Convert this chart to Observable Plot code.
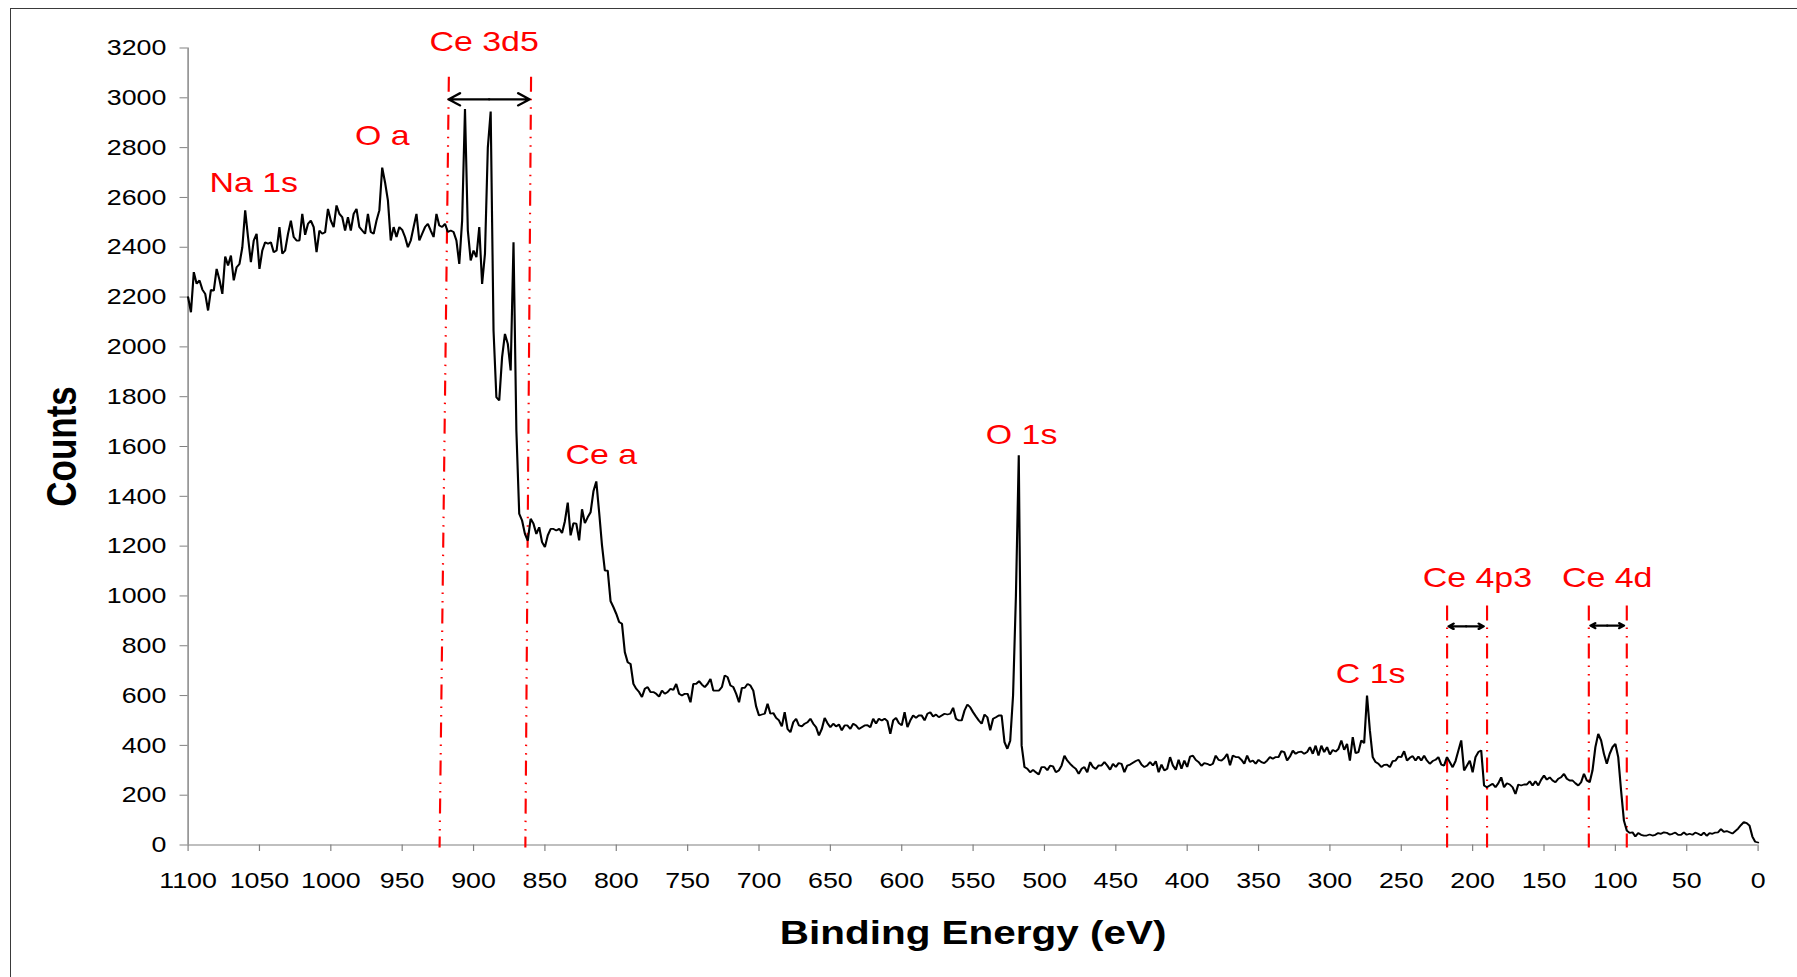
<!DOCTYPE html>
<html>
<head>
<meta charset="utf-8">
<script src="https://cdn.jsdelivr.net/npm/d3@7"></script>
<script src="https://cdn.jsdelivr.net/npm/@observablehq/plot@0.6"></script>
<style>
  html, body { margin: 0; padding: 0; background: #ffffff; }
  #wrap { position: relative; width: 1797px; height: 977px; overflow: hidden; background: #fff; }
  #border { position: absolute; left: 10px; top: 8px; width: 1900px; height: 1100px;
            border-left: 1.5px solid #3a3a3a; border-top: 1.5px solid #3a3a3a; pointer-events: none; }
</style>
</head>
<body>
<div id="wrap"><div id="chart"></div><div id="border"></div></div>
<script>
// ---- Data: XPS survey spectrum, counts sampled every 2 eV from 1100 eV down to 0 eV ----
const energies = d3.range(1100, -1, -2);
const counts = [
  2200,2139,2300,2253,2267,2230,2213,2146,2229,2226,
  2313,2269,2213,2363,2327,2367,2267,2320,2333,2400,
  2548,2440,2340,2427,2454,2313,2387,2420,2414,2420,
  2380,2387,2481,2374,2387,2454,2507,2441,2427,2427,
  2534,2450,2494,2507,2481,2380,2467,2454,2460,2554,
  2507,2481,2568,2534,2521,2467,2521,2467,2534,2554,
  2481,2467,2454,2534,2461,2454,2507,2548,2720,2660,
  2588,2427,2481,2441,2481,2470,2441,2400,2427,2481,
  2534,2427,2454,2481,2494,2467,2441,2534,2487,2481,
  2494,2461,2467,2461,2427,2333,2507,2955,2467,2347,
  2387,2360,2481,2253,2374,2800,2945,2066,1798,1785,
  1959,2052,2012,1905,2420,1664,1330,1303,1249,1222,
  1310,1290,1249,1276,1216,1196,1243,1269,1269,1263,
  1270,1252,1300,1375,1243,1292,1290,1223,1348,1292,
  1316,1336,1420,1460,1336,1203,1102,1102,979,955,
  928,895,888,774,734,727,647,627,614,594,
  627,634,614,614,607,596,620,607,614,627,
  623,647,607,600,607,607,573,647,647,658,
  644,634,647,667,620,620,620,634,681,674,
  640,634,607,573,631,631,647,640,620,556,
  520,524,527,567,527,530,510,500,476,533,
  466,453,493,507,480,476,487,493,507,487,
  473,440,466,510,489,473,487,476,484,460,
  480,480,466,487,480,466,473,480,481,473,
  507,487,507,500,507,497,446,500,510,489,
  480,533,473,500,520,510,520,520,500,527,
  533,516,524,513,520,527,524,527,551,507,
  500,500,540,564,553,533,516,500,487,524,
  513,460,507,513,520,520,413,386,419,600,
  1000,1565,400,313,306,292,302,292,283,313,
  313,300,319,316,292,299,319,359,339,326,
  315,306,286,306,313,292,333,313,305,320,
  319,333,319,302,326,313,329,326,292,319,
  323,330,337,342,323,313,319,333,319,337,
  292,323,299,306,353,319,302,342,306,339,
  313,355,359,342,333,318,329,326,320,326,
  359,342,339,349,366,320,359,353,353,342,
  326,359,333,339,326,342,333,329,339,353,
  346,353,353,377,373,339,355,379,366,373,
  375,366,373,393,366,399,359,399,373,393,
  363,382,375,386,420,382,406,339,433,369,
  373,420,409,600,460,353,333,326,313,322,
  323,313,337,339,355,353,377,339,350,357,
  339,355,339,359,339,326,337,342,353,323,
  319,353,333,312,337,379,420,299,319,339,
  292,353,373,380,239,232,239,246,232,248,
  272,232,248,243,232,205,243,239,243,243,
  256,239,256,239,262,279,262,272,259,252,
  266,272,286,266,259,259,248,239,252,286,
  259,252,300,393,446,420,366,326,366,393,
  406,353,219,98,58,49,51,34,48,41,
  38,38,42,38,41,48,45,51,49,42,
  45,50,41,41,51,41,45,41,50,45,
  39,50,37,48,45,50,51,64,53,56,
  51,46,56,66,80,92,88,78,34,13,
  10
];

// Axis ticks
const xTicks = d3.range(0, 1101, 50);
const yTicks = d3.range(0, 3201, 200);

// Peak annotations (red labels)
const peakLabels      = ["Na 1s", "O a", "Ce 3d5", "Ce a", "O 1s", "C 1s", "Ce 4p3", "Ce 4d"];
const peakLabelEnergy = [1054, 964, 892.6, 810.5, 516, 271.5, 196.7, 105.7];
const peakLabelCounts = [2621, 2809, 3187, 1530, 1611, 650, 1035, 1035];

// Region boundary lines (red dash-dot)
const lineTopEnergy    = [917.3, 859.7, 217.9, 189.9, 118.6, 92.0];
const lineBottomEnergy = [923.8, 863.7, 217.9, 189.9, 118.6, 92.0];
const lineTopCounts    = [3085, 3085, 962, 962, 962, 962];
const lineBottomCounts = [-10, -10, -10, -10, -10, -10];

// Double-headed arrows spanning each region
const arrowLeftEnergy  = [917.5, 216.8, 117.4];
const arrowRightEnergy = [860.7, 192.3, 94.0];
const arrowCounts      = [2994, 878, 881];

// ---- Build ----
const n = Math.min(energies.length, counts.length);
const spectrum = d3.range(n).map(i => ({energy: energies[i], counts: counts[i]}));
const arrows = arrowCounts.map((c, i) => ({left: arrowLeftEnergy[i], right: arrowRightEnergy[i], mid: (arrowLeftEnergy[i] + arrowRightEnergy[i]) / 2, c}));
const bounds = lineTopEnergy.map((e, i) => ({x1: e, y1: lineTopCounts[i], x2: lineBottomEnergy[i], y2: lineBottomCounts[i]}));
const labels = peakLabels.map((t, i) => ({t, e: peakLabelEnergy[i], c: peakLabelCounts[i]}));

const S = 1.19;               // horizontal stretch of the original picture
const W = 1797 / S, H = 977;

const plot = Plot.plot({
  width: W, height: H,
  marginLeft: 187.5 / S, marginRight: 39.5 / S, marginTop: 47.5, marginBottom: 132.5,
  style: {fontFamily: "'Liberation Sans', Arial, sans-serif", fontSize: "22.5px", color: "#000", background: "#fff", overflow: "visible"},
  x: {domain: [1100, 0], ticks: xTicks, tickFormat: d => String(d), tickSize: 6.5, tickPadding: 20.5, label: null},
  y: {domain: [0, 3200], ticks: yTicks, tickFormat: d => String(d), tickSize: 6.7, tickPadding: 11.6, label: null},
  marks: [
    Plot.ruleX([1100], {stroke: "#808080", strokeWidth: 1.2}),
    Plot.ruleY([0], {stroke: "#808080", strokeWidth: 1.2}),
    Plot.link(bounds, {x1: "x1", y1: "y1", x2: "x2", y2: "y2", stroke: "#ff0000", strokeWidth: 1.8, strokeDasharray: "15,7,1.5,7,1.5,6"}),
    Plot.line(spectrum, {x: "energy", y: "counts", stroke: "#000", strokeWidth: 1.8, strokeLinejoin: "miter"}),
    Plot.arrow(arrows, {x1: "mid", y1: "c", x2: "left", y2: "c", stroke: "#000", strokeWidth: 2.2, headLength: 12, headAngle: 65}),
    Plot.arrow(arrows, {x1: "mid", y1: "c", x2: "right", y2: "c", stroke: "#000", strokeWidth: 2.2, headLength: 12, headAngle: 65}),
    Plot.text(labels, {x: "e", y: "c", text: "t", fill: "#ff0000", fontSize: 28.5, textAnchor: "middle", lineAnchor: "bottom"}),
    Plot.text(["Binding Energy (eV)"], {frameAnchor: "bottom", dy: 98.8, lineAnchor: "bottom", fontSize: 34, fontWeight: "bold", fill: "#000"}),
    Plot.text(["Counts"], {frameAnchor: "left", rotate: -90, dx: 63 - 187.5 / S, lineAnchor: "bottom", textAnchor: "middle", fontSize: 35, fontWeight: "bold", fill: "#000"})
  ]
});

// stretch horizontally like the original picture
plot.setAttribute("width", 1797);
plot.setAttribute("height", 977);
plot.setAttribute("preserveAspectRatio", "none");
plot.style.width = "1797px";
plot.style.height = "977px";
plot.style.maxWidth = "none";

// gray tick marks, black labels
d3.select(plot).selectAll('g[aria-label="x-axis tick"], g[aria-label="y-axis tick"]').attr("stroke", "#808080");
d3.select(plot).selectAll('g[aria-label="x-axis tick label"], g[aria-label="y-axis tick label"]').attr("fill", "#000");

document.getElementById("chart").appendChild(plot);
</script>
</body>
</html>
